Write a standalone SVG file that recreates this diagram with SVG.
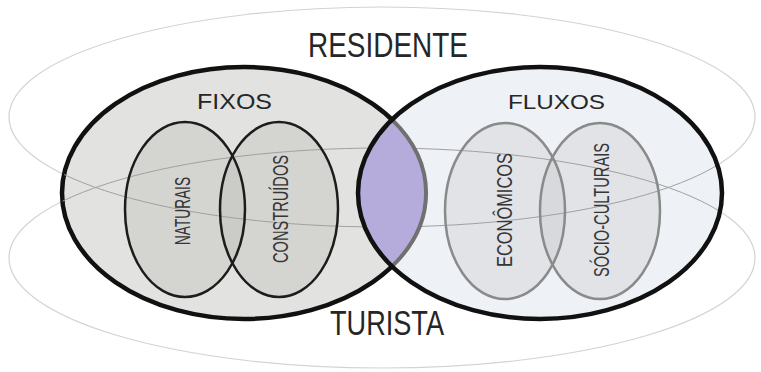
<svg xmlns="http://www.w3.org/2000/svg" width="761" height="372" viewBox="0 0 761 372">
<style>
.thin{fill:none;stroke:#d3d3d3;stroke-width:1.2}
.thinin{fill:none;stroke:#a0a0a0;stroke-width:1}
.big{font-family:"Liberation Sans",Arial,sans-serif;fill:#262626;text-anchor:middle}
.lab{font-family:"Liberation Sans",Arial,sans-serif;fill:#353535;text-anchor:middle;font-size:22px}
.inL{fill:#bcbcb8;fill-opacity:0.36}
.inR{fill:#c4c4c8;fill-opacity:0.3}
.stL{fill:none;stroke:#1c1c1c;stroke-width:2.5}
.stR{fill:none;stroke:#8a8a8a;stroke-width:2.5}
</style>
<defs>
<clipPath id="circles">
<ellipse cx="244" cy="193" rx="182" ry="126"/>
<ellipse cx="540" cy="193" rx="182" ry="126"/>
</clipPath>
</defs>
<rect width="761" height="372" fill="#ffffff"/>
<g id="residente">
<ellipse class="thin" cx="382" cy="117" rx="373" ry="110"/>
<text class="big" x="388" y="57" font-size="35" textLength="160" lengthAdjust="spacingAndGlyphs">RESIDENTE</text>
</g>
<g id="turista">
<ellipse class="thin" cx="382" cy="258" rx="373" ry="110"/>
<text class="big" x="387" y="335" font-size="35" textLength="114" lengthAdjust="spacingAndGlyphs">TURISTA</text>
</g>
<g id="fixos">
<ellipse cx="244" cy="193" rx="182" ry="126" fill="#e2e2e0" stroke="#111" stroke-width="4.5"/>
<text class="big" x="234.5" y="109" font-size="22" textLength="75" lengthAdjust="spacingAndGlyphs">FIXOS</text>
</g>
<g id="fluxos">
<ellipse cx="540" cy="193" rx="182" ry="126" fill="#eef1f5"/>
<text class="big" x="556.5" y="109" font-size="21" textLength="97" lengthAdjust="spacingAndGlyphs">FLUXOS</text>
</g>
<g id="naturais">
<ellipse class="inL" cx="185" cy="209.5" rx="60" ry="87.5"/>
</g>
<g id="construidos">
<ellipse class="inL" cx="279" cy="209.5" rx="59" ry="87.5"/>
</g>
<g id="economicos">
<ellipse class="inR" cx="505" cy="211" rx="60" ry="88"/>
</g>
<g id="socio-culturais">
<ellipse class="inR" cx="600" cy="211" rx="60" ry="88"/>
</g>
<g id="lines-inside" clip-path="url(#circles)">
<ellipse class="thinin" cx="382" cy="117" rx="373" ry="110"/>
<ellipse class="thinin" cx="382" cy="258" rx="373" ry="110"/>
</g>
<g id="inner-strokes">
<ellipse class="stL" cx="185" cy="209.5" rx="60" ry="87.5"/>
<ellipse class="stL" cx="279" cy="209.5" rx="59" ry="87.5"/>
<ellipse class="stR" cx="505" cy="211" rx="60" ry="88"/>
<ellipse class="stR" cx="600" cy="211" rx="60" ry="88"/>
<text class="lab" transform="translate(182,211) rotate(-90)" x="0" y="8" textLength="68" lengthAdjust="spacingAndGlyphs">NATURAIS</text>
<text class="lab" transform="translate(280,209) rotate(-90)" x="0" y="8" textLength="108" lengthAdjust="spacingAndGlyphs">CONSTRUÍDOS</text>
<text class="lab" transform="translate(504,210) rotate(-90)" x="0" y="8" textLength="114" lengthAdjust="spacingAndGlyphs">ECONÔMICOS</text>
<text class="lab" transform="translate(601,210) rotate(-90)" x="0" y="8" textLength="134" lengthAdjust="spacingAndGlyphs">SÓCIO-CULTURAIS</text>
</g>
<g id="intersecao">
<path d="M392,119.6 A182,126 0 0,1 392,266.4 A182,126 0 0,1 392,119.6 Z" fill="#b5acdc"/>
<path d="M392,119.6 A182,126 0 0,1 392,266.4" fill="none" stroke="#707070" stroke-width="4"/>
</g>
<g id="fluxos-border">
<ellipse cx="540" cy="193" rx="182" ry="126" fill="none" stroke="#111" stroke-width="4.5"/>
</g>
<g id="connectors"/>
</svg>
